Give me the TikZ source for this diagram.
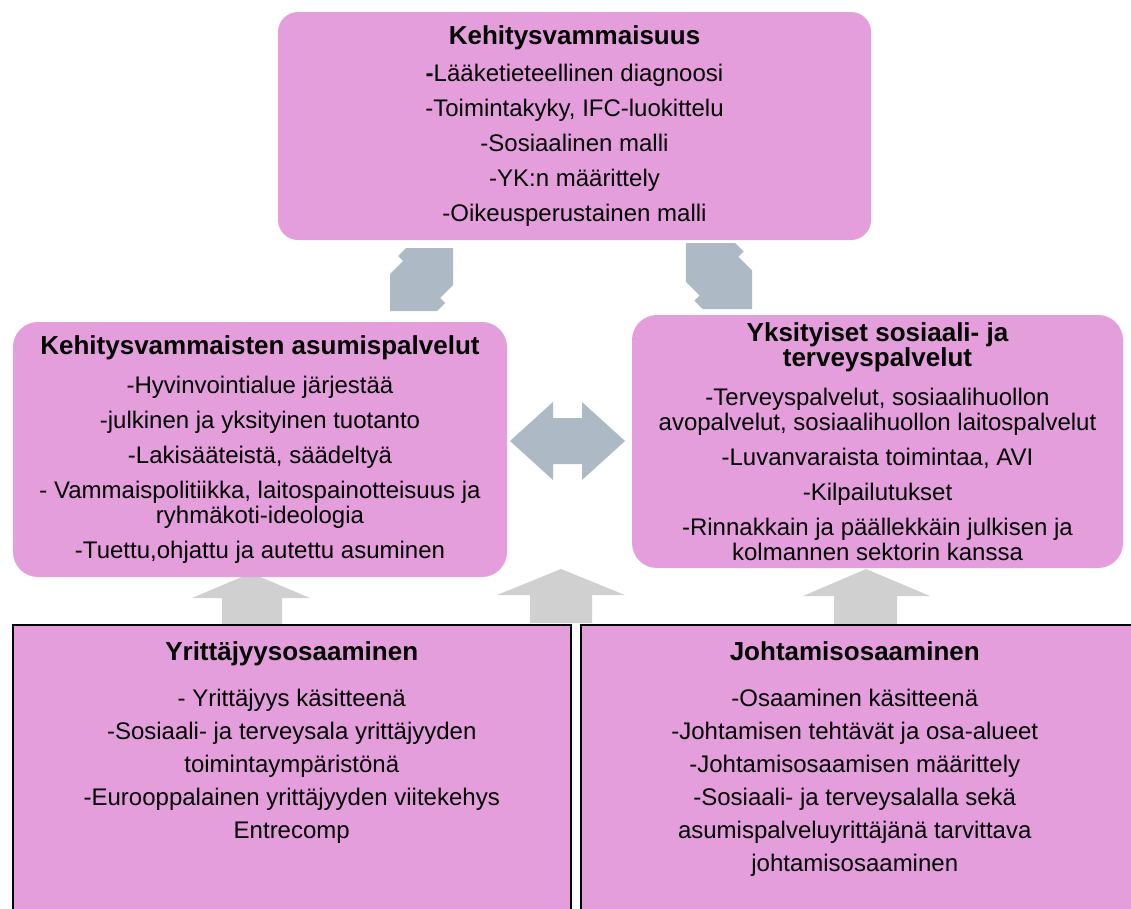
\documentclass[tikz,border=0pt]{standalone}
\usepackage{fontspec}
\setmainfont{Liberation Sans}
\usetikzlibrary{positioning}

\definecolor{boxpink}{RGB}{228,158,220}
\definecolor{arrowblue}{RGB}{173,185,196}
\definecolor{arrowgray}{RGB}{208,208,208}

\newcommand{\otsikko}[1]{{\bfseries\fontsize{26}{26}\selectfont #1}}

\begin{document}
\begin{tikzpicture}[x=1pt,y=-1pt,
  box/.style={fill=boxpink, rounded corners=20pt, inner sep=0pt, align=center,
    font=\fontsize{24}{25}\selectfont},
  plainbox/.style={fill=boxpink, draw=black, line width=1.5pt, inner sep=0pt},
  txt/.style={align=center, inner sep=0pt, font=\fontsize{24}{33}\selectfont},
  bluearrow/.style={fill=arrowblue},
  grayarrow/.style={fill=arrowgray}]
\clip (0,0) rectangle (1131,908);

% block arrows pointing up
\fill[grayarrow] (251,573) -- (310,598) -- (282,598) -- (282,626) -- (222,626) -- (222,598) -- (192,598) -- cycle;
\fill[grayarrow] (561,569) -- (625,595) -- (592,595) -- (592,623) -- (530,623) -- (530,595) -- (497,595) -- cycle;
\fill[grayarrow] (866,569) -- (930,596) -- (897,596) -- (897,626) -- (834,626) -- (834,596) -- (803,596) -- cycle;

\node[box, minimum width=593pt, minimum height=228pt] (kehitys) at (574.5,126)
  {\otsikko{Kehitysvammaisuus}\\[12pt]
   {\bfseries -}Lääketieteellinen diagnoosi\\[10pt]
   -Toimintakyky, IFC-luokittelu\\[10pt]
   -Sosiaalinen malli\\[10pt]
   -YK:n määrittely\\[10pt]
   -Oikeusperustainen malli};

\node[box, rounded corners=25pt, minimum width=494pt, minimum height=255pt] (asumis) at (260,449.5)
  {\otsikko{Kehitysvammaisten asumispalvelut}\\[14pt]
   -Hyvinvointialue järjestää\\[10pt]
   -julkinen ja yksityinen tuotanto\\[10pt]
   -Lakisääteistä, säädeltyä\\[10pt]
   - Vammaispolitiikka, laitospainotteisuus ja\\
   ryhmäkoti-ideologia\\[10pt]
   -Tuettu,ohjattu ja autettu asuminen};

\node[box, rounded corners=25pt, minimum width=491pt, minimum height=253pt] (yksityiset) at (877.5,441.5)
  {\otsikko{Yksityiset sosiaali- ja}\\
   \otsikko{terveyspalvelut}\\[14pt]
   -Terveyspalvelut, sosiaalihuollon\\
   avopalvelut, sosiaalihuollon laitospalvelut\\[10pt]
   -Luvanvaraista toimintaa, AVI\\[10pt]
   -Kilpailutukset\\[10pt]
   -Rinnakkain ja päällekkäin julkisen ja\\
   kolmannen sektorin kanssa};

% arrows between the upper boxes
\fill[bluearrow, shift={(390,248)}] (16,0) -- (63,0) -- (63,37) -- (50,50) -- (55,55) -- (47,63)
  -- (0,63) -- (0,26) -- (13,13) -- (8,8) -- cycle;
\fill[bluearrow, shift={(752,243)}, xscale=-1.05, yscale=1.05] (16,0) -- (63,0) -- (63,37) -- (50,50)
  -- (55,55) -- (47,63) -- (0,63) -- (0,26) -- (13,13) -- (8,8) -- cycle;
\fill[bluearrow] (510,441) -- (553,402) -- (553,418) -- (582,418) -- (582,402) -- (625,441)
  -- (582,480) -- (582,464) -- (553,464) -- (553,480) -- cycle;

\node[plainbox, anchor=north west, minimum width=558pt, minimum height=320pt] (yrittajyys) at (12,624) {};
\node[txt, below=17pt of yrittajyys.north] (yrittajyysteksti)
  {\otsikko{Yrittäjyysosaaminen}\\[13pt]
   - Yrittäjyys käsitteenä\\
   -Sosiaali- ja terveysala yrittäjyyden\\
   toimintaympäristönä\\
   -Eurooppalainen yrittäjyyden viitekehys\\
   Entrecomp};

\node[plainbox, anchor=north west, minimum width=560pt, minimum height=320pt] (johtaminen) at (580,624) {};
\node[txt, below=17pt of johtaminen.north, xshift=-6pt] (johtaminenteksti)
  {\otsikko{Johtamisosaaminen}\\[13pt]
   -Osaaminen käsitteenä\\
   -Johtamisen tehtävät ja osa-alueet\\
   -Johtamisosaamisen määrittely\\
   -Sosiaali- ja terveysalalla sekä\\
   asumispalveluyrittäjänä tarvittava\\
   johtamisosaaminen};
\end{tikzpicture}
\end{document}
